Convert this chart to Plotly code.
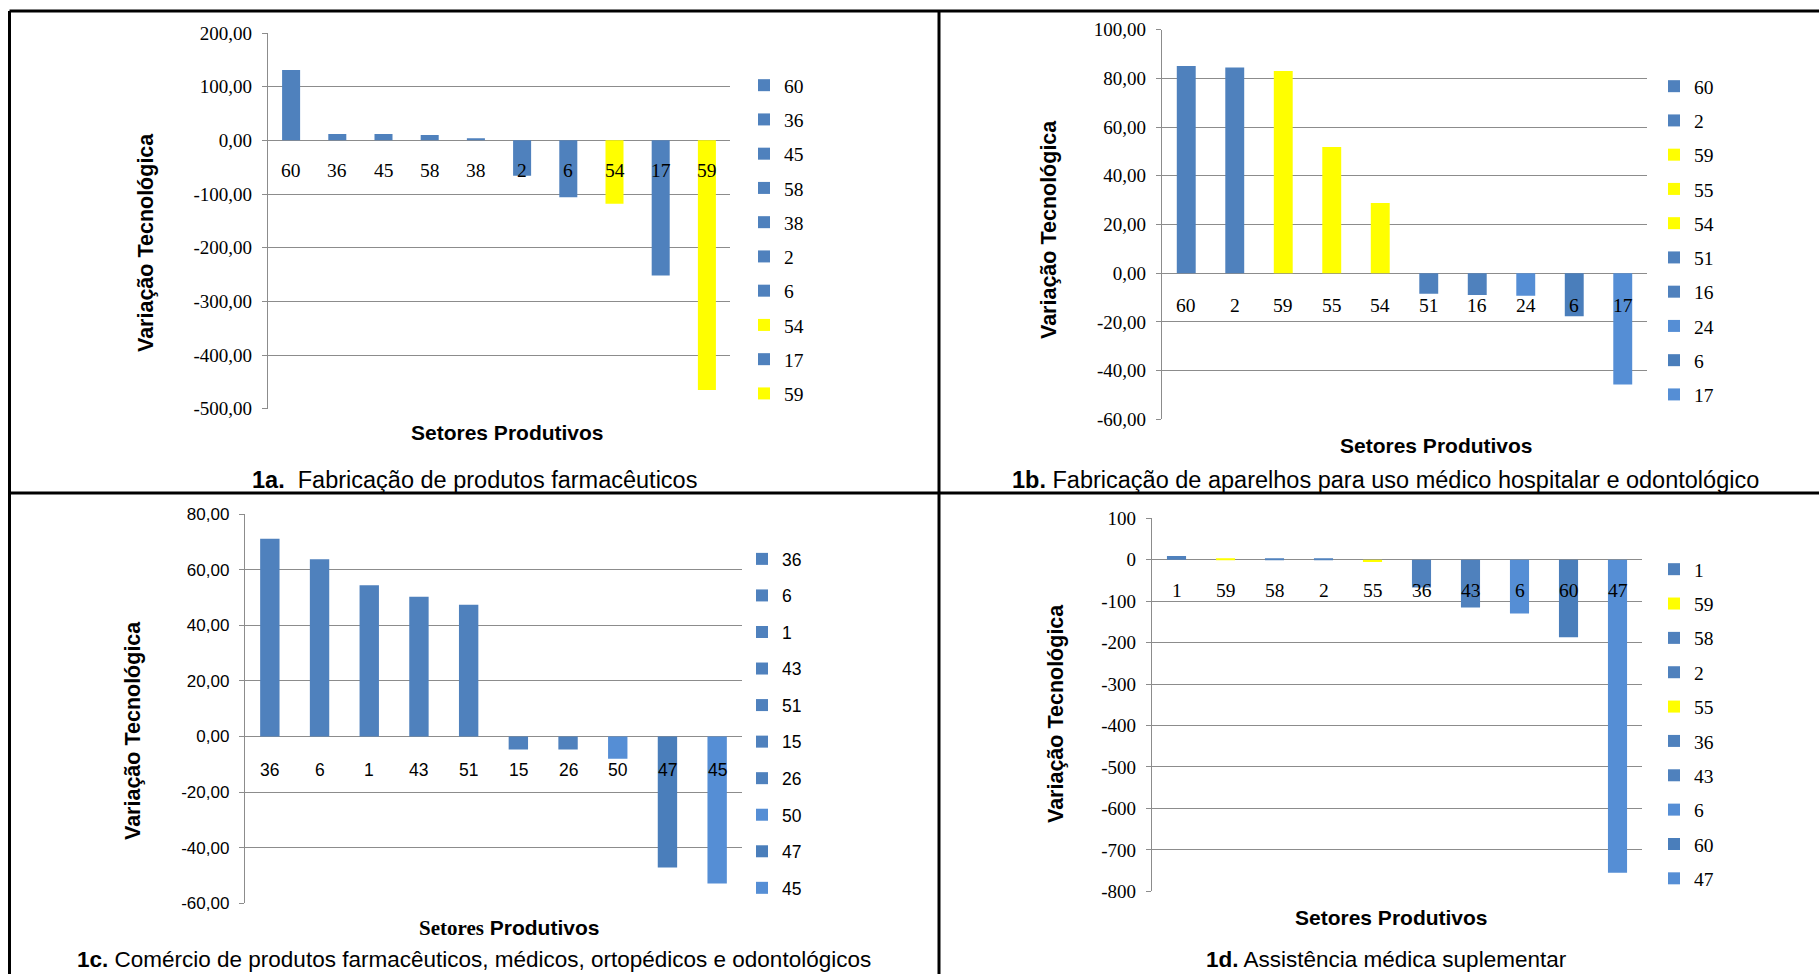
import plotly.graph_objects as go

W, H = 1819, 974

# ---------------- data ----------------
# 1a. Fabricação de produtos farmacêuticos
setores_a = ["60", "36", "45", "58", "38", "2", "6", "54", "17", "59"]
variacao_a = [131, 12, 12, 10, 4, -66, -106, -118, -252, -465]

# 1b. Fabricação de aparelhos para uso médico hospitalar e odontológico
setores_b = ["60", "2", "59", "55", "54", "51", "16", "24", "6", "17"]
variacao_b = [85.1, 84.5, 83.0, 51.8, 28.8, -8.4, -9.0, -9.3, -17.7, -45.7]

# 1c. Comércio de produtos farmacêuticos, médicos, ortopédicos e odontológicos
setores_c = ["36", "6", "1", "43", "51", "15", "26", "50", "47", "45"]
variacao_c = [71.1, 63.7, 54.4, 50.2, 47.4, -4.7, -4.7, -8.0, -47.1, -52.9]

# 1d. Assistência médica suplementar
setores_d = ["1", "59", "58", "2", "55", "36", "43", "6", "60", "47"]
variacao_d = [8.8, 2.0, 1.5, 1.5, -5.6, -66.8, -115, -130, -187, -755]

# y-axis ticks
ticks_a = [-500, -400, -300, -200, -100, 0, 100, 200]
ticklabels_a = ["-500,00", "-400,00", "-300,00", "-200,00", "-100,00", "0,00", "100,00", "200,00"]
ticks_b = [-60, -40, -20, 0, 20, 40, 60, 80, 100]
ticklabels_b = ["-60,00", "-40,00", "-20,00", "0,00", "20,00", "40,00", "60,00", "80,00", "100,00"]
ticks_c = [-60, -40, -20, 0, 20, 40, 60, 80]
ticklabels_c = ["-60,00", "-40,00", "-20,00", "0,00", "20,00", "40,00", "60,00", "80,00"]
ticks_d = [-800, -700, -600, -500, -400, -300, -200, -100, 0, 100]
ticklabels_d = ["-800", "-700", "-600", "-500", "-400", "-300", "-200", "-100", "0", "100"]

# ---------------- styles ----------------
BLUE = "#4F81BD"
BLUE_L = "#558ED5"
BLUE_D = "#4A7EBB"
YEL = "#FFFF00"
GRID = "#8C8C8C"

cores_a = [BLUE, BLUE, BLUE, BLUE, BLUE, BLUE, BLUE, YEL, BLUE, YEL]
cores_b = [BLUE, BLUE, YEL, YEL, YEL, BLUE, BLUE, BLUE_L, BLUE_D, BLUE_L]
cores_c = [BLUE, BLUE, BLUE, BLUE, BLUE, BLUE, BLUE, BLUE_L, BLUE_D, BLUE_L]
cores_d = [BLUE, YEL, BLUE, BLUE, YEL, BLUE, BLUE, BLUE_L, BLUE_D, BLUE_L]

SERIF = "Liberation Serif"
SANS = "Liberation Sans"


def px(x):
    return x / W


def py(y):
    return 1 - y / H


panels = [
    dict(cats=setores_a, vals=variacao_a, cols=cores_a, tv=ticks_a, tt=ticklabels_a,
         rng=[-500, 200], box=(268, 730, 33, 408.7), font=SERIF, fs_tick=19, fs_cat=19.5,
         cat_shift=-30, leg=(744, 66, 5.9),
         ytitle=(146, 243), xtitle=(507, 432), cap=(475, 480), fs_cap=23.5,
         caption="<b>1a.</b>\u00a0 Fabricação de produtos farmacêuticos",
         xtitle_text="<b>Setores Produtivos</b>"),
    dict(cats=setores_b, vals=variacao_b, cols=cores_b, tv=ticks_b, tt=ticklabels_b,
         rng=[-60, 100], box=(1162, 1647, 29.7, 419.3), font=SERIF, fs_tick=19, fs_cat=19.5,
         cat_shift=-32, leg=(1654, 67, 5.9),
         ytitle=(1049, 230), xtitle=(1436, 445), cap=(1385, 480), fs_cap=23.5,
         caption="<b>1b.</b> Fabricação de aparelhos para uso médico hospitalar e odontológico",
         xtitle_text="<b>Setores Produtivos</b>"),
    dict(cats=setores_c, vals=variacao_c, cols=cores_c, tv=ticks_c, tt=ticklabels_c,
         rng=[-60, 80], box=(245, 742, 514, 903.3), font=SANS, fs_tick=17, fs_cat=17.5,
         cat_shift=-34, leg=(742, 541, 10.8),
         ytitle=(133, 731), xtitle=(509, 928), cap=(474, 959), fs_cap=22.5,
         caption="<b>1c.</b> Comércio de produtos farmacêuticos, médicos, ortopédicos e odontológicos",
         xtitle_text="<b><span style='font-family:" + SERIF + "'>Setores</span> Produtivos</b>"),
    dict(cats=setores_d, vals=variacao_d, cols=cores_d, tv=ticks_d, tt=ticklabels_d,
         rng=[-800, 100], box=(1152, 1642, 518.3, 891.3), font=SERIF, fs_tick=19, fs_cat=19.5,
         cat_shift=-31, leg=(1654, 550, 6.0),
         ytitle=(1056, 714), xtitle=(1391, 917), cap=(1386, 959), fs_cap=22.5,
         caption="<b>1d.</b> Assistência médica suplementar",
         xtitle_text="<b>Setores Produtivos</b>"),
]

fig = go.Figure()
annotations = []
layout = {}

for i, p in enumerate(panels, start=1):
    sfx = "" if i == 1 else str(i)
    xa, ya = "x" + sfx, "y" + sfx
    lg = "legend" + sfx
    x0, x1, y0, y1 = p["box"]

    for j, (c, v, col) in enumerate(zip(p["cats"], p["vals"], p["cols"])):
        fig.add_trace(go.Bar(
            x=[c], y=[v], name=c, xaxis=xa, yaxis=ya, legend=lg,
            legendgroup=f"{i}-{c}", marker=dict(color=col, line=dict(width=0)),
            hoverinfo="x+y",
        ))
        # sector label just under the zero line (category index j)
        annotations.append(dict(
            x=j, y=0, xref=xa, yref=ya, text=c, showarrow=False, yshift=p["cat_shift"],
            font=dict(family=p["font"], size=p["fs_cat"], color="black"),
        ))

    layout["xaxis" + sfx] = dict(
        domain=[px(x0), px(x1)], anchor=ya, type="category",
        categoryorder="array", categoryarray=p["cats"], range=[-0.5, 9.5],
        showticklabels=False, showgrid=False, zeroline=False, showline=False, ticks="",
    )
    layout["yaxis" + sfx] = dict(
        domain=[py(y1), py(y0)], anchor=xa, range=p["rng"],
        tickvals=p["tv"], ticktext=p["tt"],
        tickfont=dict(family=p["font"], size=p["fs_tick"], color="black"),
        showgrid=True, gridcolor=GRID, gridwidth=1.4,
        zeroline=True, zerolinecolor=GRID, zerolinewidth=1.4,
        showline=True, linecolor=GRID, linewidth=1.4,
        ticks="outside", ticklen=5, tickcolor=GRID, tickwidth=1.4,
        ticklabelstandoff=6,
    )
    lx, ly, gap = p["leg"]
    layout[lg] = dict(
        x=px(lx), y=py(ly), xanchor="left", yanchor="top",
        font=dict(family=p["font"], size=p["fs_cat"], color="black"),
        bgcolor="rgba(0,0,0,0)", borderwidth=0, traceorder="grouped",
        tracegroupgap=gap, itemclick=False, itemdoubleclick=False,
    )

    # axis titles and caption
    annotations.append(dict(
        x=px(p["ytitle"][0]), y=py(p["ytitle"][1]), xref="paper", yref="paper",
        text="<b>Variação Tecnológica</b>", textangle=-90, showarrow=False,
        xanchor="center", yanchor="middle",
        font=dict(family=SANS, size=21.5, color="black"),
    ))
    annotations.append(dict(
        x=px(p["xtitle"][0]), y=py(p["xtitle"][1]), xref="paper", yref="paper",
        text=p["xtitle_text"], showarrow=False, xanchor="center", yanchor="middle",
        font=dict(family=SANS, size=21, color="black"),
    ))
    annotations.append(dict(
        x=px(p["cap"][0]), y=py(p["cap"][1]), xref="paper", yref="paper",
        text=p["caption"], showarrow=False, xanchor="center", yanchor="middle",
        font=dict(family=SANS, size=p["fs_cap"], color="black"),
    ))

# table frame
shapes = [
    dict(type="line", xref="paper", yref="paper", x0=px(9.5), x1=1, y0=py(11), y1=py(11),
         line=dict(color="black", width=3)),
    dict(type="line", xref="paper", yref="paper", x0=px(9.5), x1=px(9.5), y0=py(11), y1=0,
         line=dict(color="black", width=3)),
    dict(type="line", xref="paper", yref="paper", x0=px(9.5), x1=1, y0=py(493), y1=py(493),
         line=dict(color="black", width=3)),
    dict(type="line", xref="paper", yref="paper", x0=px(939), x1=px(939), y0=py(11), y1=0,
         line=dict(color="black", width=3)),
    # white box behind the 1a axis title, interrupting the bottom gridline
    dict(type="rect", xref="paper", yref="paper", x0=px(389), x1=px(632),
         y0=py(412), y1=py(405), fillcolor="white", line=dict(width=0), layer="above"),
]

fig.update_layout(
    width=W, height=H, margin=dict(l=0, r=0, t=0, b=0, autoexpand=False),
    paper_bgcolor="white", plot_bgcolor="white",
    barmode="overlay", bargap=0.61,
    annotations=annotations, shapes=shapes,
    **layout,
)

fig.write_html("out.html")
